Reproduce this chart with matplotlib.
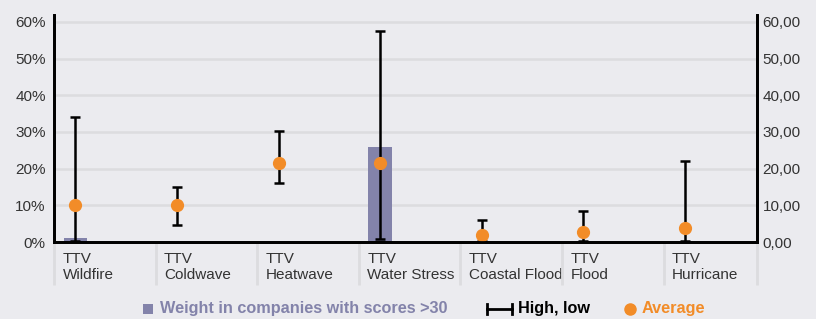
import matplotlib
matplotlib.use("Agg")
import matplotlib.pyplot as plt
import matplotlib.transforms as mtransforms
from matplotlib.lines import Line2D
from matplotlib.patches import Rectangle
import numpy as np

plt.rcParams['font.family'] = ['Liberation Sans', 'DejaVu Sans']

categories = ["TTV\nWildfire", "TTV\nColdwave", "TTV\nHeatwave", "TTV\nWater Stress",
              "TTV\nCoastal Flood", "TTV\nFlood", "TTV\nHurricane"]
weight = [1.0, 0.0, 0.0, 25.8, 0.0, 0.0, 0.0]
high = [34.2, 14.9, 30.4, 57.6, 6.0, 8.5, 22.0]
low = [0.3, 4.6, 16.1, 0.8, 0.3, 0.4, 0.4]
average = [10.2, 10.2, 21.5, 21.5, 2.0, 2.8, 3.7]
left_ticks = [0, 10, 20, 30, 40, 50, 60]
legend_labels = ["Weight in companies with scores >30", "High, low", "Average"]

BG = "#ebebef"
BAR = "#8383aa"
ORANGE = "#f28c28"
GRID = "#dcdcdf"
TXT = "#333333"

W, H = 816, 319
fig = plt.figure(figsize=(W/100, H/100), dpi=100, facecolor=BG)
ax = fig.add_axes([54/W, 1-242/H, (757-54)/W, (242-15)/H])
ax.set_facecolor(BG)

n = len(categories)
x = np.arange(n) - 0.29
xmax = -0.5 + (757 - 54) / 101.6

ax.bar(x, weight, width=0.23, color=BAR, zorder=2)
yerr = [np.array(average) - np.array(low), np.array(high) - np.array(average)]
ax.errorbar(x, average, yerr=yerr, fmt='none', ecolor='black', elinewidth=1.8,
            capsize=3.3, capthick=1.8, zorder=3)
ax.plot(x, average, 'o', color=ORANGE, markersize=8.5, zorder=4, linestyle='none')

ax.set_xlim(-0.5, xmax)
ax.set_ylim(0, 61.9)

for t in left_ticks:
    ax.axhline(t, color=GRID, lw=1.8, zorder=1)

ax.set_yticks(left_ticks)
ax.set_yticklabels([f"{t}%" for t in left_ticks], fontsize=11, color=TXT)
ax.tick_params(axis='y', length=0, pad=6)

ax2 = ax.twinx()
ax2.set_ylim(0, 61.9)
ax2.set_yticks(left_ticks)
ax2.set_yticklabels([f"{t},00" for t in left_ticks], fontsize=11, color=TXT)
ax2.tick_params(axis='y', length=0, pad=4)

for a in (ax, ax2):
    a.spines['top'].set_visible(False)
    for s in ['left', 'right', 'bottom']:
        a.spines[s].set_linewidth(2)
        a.spines[s].set_color('black')

# x ticks: separators at boundaries, labels left-aligned
bounds = list(np.arange(n) - 0.5) + [xmax]
ax.set_xticks(bounds)
ax.set_xticklabels(categories + [""], fontsize=11, color=TXT, ha='left',
                   linespacing=1.12)
ax.tick_params(axis='x', length=31, width=2, color=GRID, direction='out', pad=-23.5)
offset = mtransforms.ScaledTranslation(8.5/100, 0, fig.dpi_scale_trans)
for lbl in ax.get_xticklabels():
    lbl.set_transform(lbl.get_transform() + offset)

# manual legend in figure pixel coordinates
def fx(px):
    return px / W

def fy(py):
    return 1 - py / H

ly = 309
fig.add_artist(Rectangle((fx(143), fy(314)), 10/W, 10/H, facecolor=BAR,
                         edgecolor='none', transform=fig.transFigure))
fig.text(fx(160), fy(ly), legend_labels[0], color=BAR, fontsize=11.7,
         fontweight='bold', va='center', ha='left')
fig.add_artist(Line2D([fx(487), fx(512)], [fy(ly), fy(ly)], color='black', lw=2,
                      transform=fig.transFigure))
for px in (487, 512):
    fig.add_artist(Line2D([fx(px), fx(px)], [fy(ly-5), fy(ly+5)], color='black', lw=2,
                          transform=fig.transFigure))
fig.text(fx(518), fy(ly), legend_labels[1], color='black', fontsize=11.7,
         fontweight='bold', va='center', ha='left')
fig.add_artist(Line2D([fx(630)], [fy(ly)], marker='o', markersize=8, color=ORANGE,
                      linestyle='none', transform=fig.transFigure))
fig.text(fx(642), fy(ly), legend_labels[2], color=ORANGE, fontsize=11.7,
         fontweight='bold', va='center', ha='left')

fig.savefig("out.png", dpi=100, facecolor=BG)
